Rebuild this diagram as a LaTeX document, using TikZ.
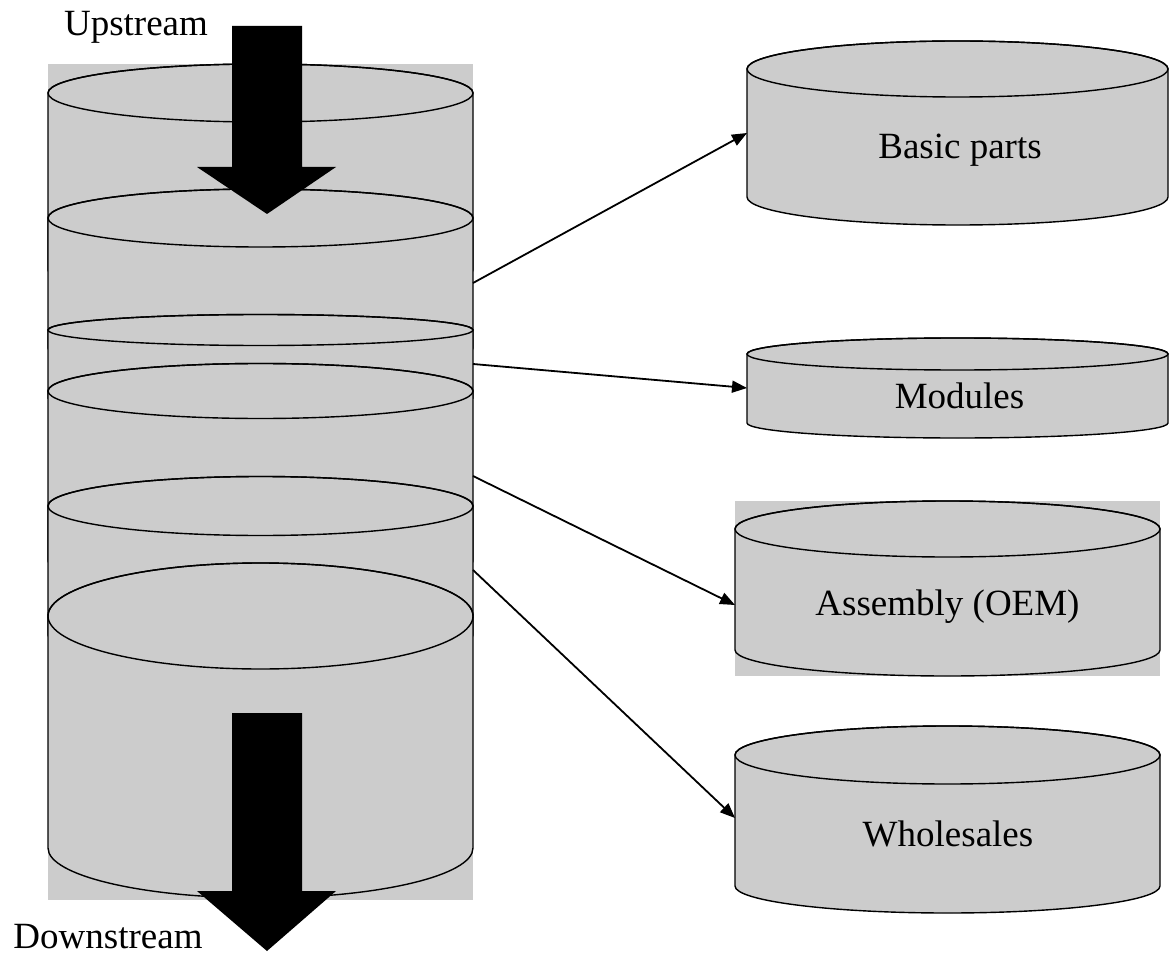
\documentclass[tikz,border=0pt]{standalone}
\usepackage{fontspec}
\setmainfont{Liberation Serif}
\usetikzlibrary{arrows.meta}
\definecolor{cylgray}{RGB}{204,204,204}
\tikzset{
  cylfill/.style={fill=cylgray, draw=black, line width=1.4pt},
  cylline/.style={draw=black, line width=1.4pt},
  lbl/.style={anchor=base, inner sep=0pt, font=\fontsize{37}{44}\selectfont},
  conn/.style={line width=1.8pt, -{Triangle[length=15pt,width=12pt]}},
  blockarrow/.style={fill=black, draw=none},
}
% cx, rx, top-ellipse centre y, top ry, bottom-arc centre y, bottom ry
\newcommand{\mycyl}[6]{%
  \path[cylfill] (#1-#2,#3) arc[start angle=180,end angle=360,x radius=#2,y radius=#4]
     -- (#1+#2,#5) arc[start angle=0,end angle=180,x radius=#2,y radius=#6] -- cycle;
  \path[cylline] (#1,#3) ellipse[x radius=#2, y radius=#4];
}
\begin{document}
\begin{tikzpicture}[x=1pt,y=-1pt]
\useasboundingbox (0,0) rectangle (1169,957);

% left stack
\fill[cylgray] (48,64) rectangle (473,900);
\mycyl{260.5}{212.5}{93}{29}{270}{29}
\mycyl{260.5}{212.5}{218}{29}{348}{29}
\mycyl{260.5}{212.5}{330}{15.5}{398}{15.5}
\mycyl{260.5}{212.5}{391}{27.5}{561}{27.5}
\mycyl{260.5}{212.5}{506}{29.5}{635}{29.5}
\mycyl{260.5}{212.5}{616}{53}{848}{50}

% block arrows
\path[blockarrow] (232,26) -- (302,26) -- (302,167) -- (336,167) -- (267,214) -- (197,167) -- (232,167) -- cycle;
\path[blockarrow] (232,713) -- (302,713) -- (302,891) -- (336,891) -- (267,951) -- (197,891) -- (232,891) -- cycle;

\node[lbl] (up) at (136,36) {Upstream};
\node[lbl] (down) at (108,948) {Downstream};

% right cylinders
\mycyl{957.5}{210.5}{69}{28}{197}{28}
\mycyl{957.5}{210.5}{354}{16}{423}{15}
\fill[cylgray] (735,501) rectangle (1160,676);
\mycyl{947.5}{212.5}{529}{28}{650}{26}
\mycyl{947.5}{212.5}{755}{29}{886}{27}

\node[lbl] (basic) at (960,159) {Basic parts};
\node[lbl] (modules) at (959.5,408) {Modules};
\node[lbl] (assembly) at (947.5,615) {Assembly (OEM)};
\node[lbl] (wholesales) at (948,846) {Wholesales};

% connector end points
\coordinate (s1) at (473,283);
\coordinate (s2) at (473,364);
\coordinate (s3) at (473,476);
\coordinate (s4) at (473,570);
\coordinate (e1) at (747,133);
\coordinate (e2) at (747,388);
\coordinate (e3) at (735,605);
\coordinate (e4) at (735,818);

\draw[conn] (s1) -- (e1);
\draw[conn] (s2) -- (e2);
\draw[conn] (s3) -- (e3);
\draw[conn] (s4) -- (e4);
\end{tikzpicture}
\end{document}
